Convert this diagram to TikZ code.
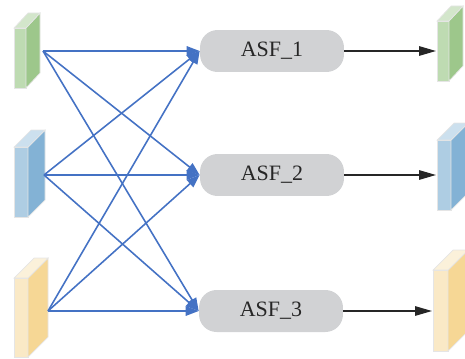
\documentclass[tikz,border=0pt]{standalone}
\usepackage{fontspec}
\setmainfont{Liberation Serif}
\usetikzlibrary{arrows.meta}

% feature map colours (front, side, top)
\definecolor{gfront}{RGB}{190,219,178}
\definecolor{gside}{RGB}{157,199,139}
\definecolor{gtop}{RGB}{211,230,203}
\definecolor{bfront}{RGB}{174,205,227}
\definecolor{bside}{RGB}{131,178,213}
\definecolor{btop}{RGB}{204,224,238}
\definecolor{yfront}{RGB}{250,233,198}
\definecolor{yside}{RGB}{246,215,149}
\definecolor{ytop}{RGB}{251,241,218}
\definecolor{asfgray}{RGB}{209,210,212}
\definecolor{linkblue}{RGB}{68,114,196}

% \fmap{x}{y}{w}{h}{dx}{dy}{prefix}: slab with front face at (x,y)
\newcommand{\fmap}[7]{%
  \filldraw[#7front,draw=black!10,line width=0.4pt] (#1,#2) rectangle ({#1+#3},{#2+#4});
  \filldraw[#7side,draw=black!10,line width=0.4pt] ({#1+#3},#2) -- ({#1+#3+#5},{#2-#6})
    -- ({#1+#3+#5},{#2+#4-#6}) -- ({#1+#3},{#2+#4}) -- cycle;
  \filldraw[#7top,draw=black!10,line width=0.4pt] (#1,#2) -- ({#1+#5},{#2-#6})
    -- ({#1+#3+#5},{#2-#6}) -- ({#1+#3},#2) -- cycle;
}

\begin{document}
\begin{tikzpicture}[x=0.02cm,y=-0.02cm,
  asf/.style={rounded corners=10pt,fill=asfgray,minimum width=2.88cm,minimum height=0.84cm,
    font=\fontsize{12.5}{14}\selectfont,text=black!85},
  link/.style={linkblue,line width=0.9pt,-{Triangle[length=2.6mm,width=1.9mm]}},
  outarrow/.style={black!85,line width=0.8pt,-{Triangle[length=3.4mm,width=1.9mm]}}]
\useasboundingbox (0,0) rectangle (465,358);

% input feature maps
\fmap{14}{28}{12}{60}{14}{15}{g}
\fmap{14}{147}{14}{70}{17}{17}{b}
\fmap{14}{278}{14}{79}{20}{20}{y}
\coordinate (in1) at (43,51);
\coordinate (in2) at (44,175);
\coordinate (in3) at (48,311);

% fusion modules
\node[asf] (asf1) at (272,51) {ASF\_1};
\node[asf] (asf2) at (272,175) {ASF\_2};
\node[asf] (asf3) at (271,311) {ASF\_3};

% every input goes to every module
\foreach \i in {1,2,3}
  \foreach \j in {1,2,3}
    \draw[link] (in\i) -- (asf\j.west);

% output feature maps
\fmap{437}{21}{12}{60}{14}{15}{g}
\fmap{437}{140}{14}{70}{17}{17}{b}
\fmap{433}{270}{15}{81}{20}{20}{y}
\coordinate (o1) at (436,51);
\coordinate (o2) at (436,175);
\coordinate (o3) at (432,311);

\foreach \j in {1,2,3}
  \draw[outarrow] (asf\j.east) -- (o\j);
\end{tikzpicture}
\end{document}
